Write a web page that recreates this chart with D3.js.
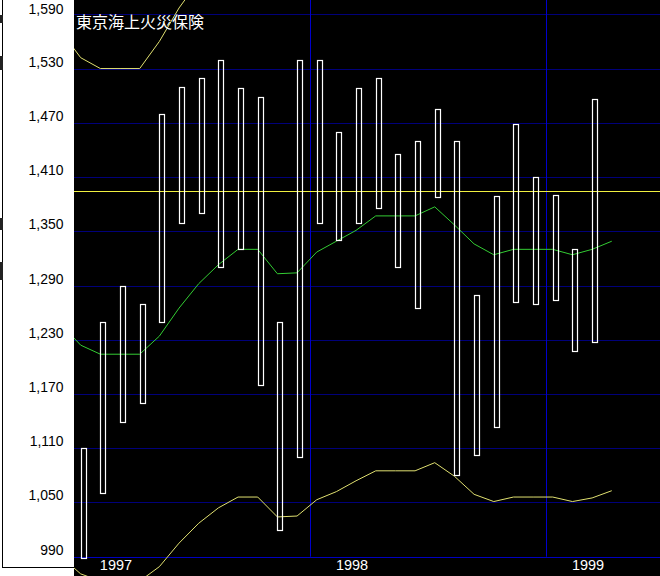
<!DOCTYPE html>
<html><head><meta charset="utf-8">
<script src="https://cdn.jsdelivr.net/npm/d3@7"></script>
<style>html,body{margin:0;padding:0;background:#000;overflow:hidden}</style>
</head><body>
<svg id="chart" width="660" height="576"></svg>
<script>
// ---- data ----
const title = "東京海上火災保険";
const months = ["1997-01","1997-02","1997-03","1997-04","1997-05","1997-06","1997-07","1997-08","1997-09","1997-10","1997-11","1997-12",
  "1998-01","1998-02","1998-03","1998-04","1998-05","1998-06","1998-07","1998-08","1998-09","1998-10","1998-11","1998-12",
  "1999-01","1999-02","1999-03"];
const candleHigh = [1110,1250,1290,1270,1480,1510,1520,1540,1508,1498,1250,1540,
  1540,1460,1508,1520,1435,1450,1485,1450,1280,1389,1469,1410,1390,1330,1496];
const candleLow = [989,1060,1139,1160,1250,1359,1370,1310,1330,1180,1020,1100,
  1359,1340,1359,1376,1310,1265,1388,1080,1102,1133,1272,1270,1274,1217,1227];
const lineMonths = ["1996-12","1997-01","1997-02","1997-03","1997-04","1997-05","1997-06","1997-07","1997-08","1997-09","1997-10","1997-11","1997-12",
  "1998-01","1998-02","1998-03","1998-04","1998-05","1998-06","1998-07","1998-08","1998-09","1998-10","1998-11","1998-12",
  "1999-01","1999-02","1999-03","1999-04"];
const movingAvg = [1247,1224,1214,1214,1214,1234,1265,1292,1313,1330,1330,1303,1304,
  1327,1339,1351,1367,1367,1367,1377,1357,1336,1324,1330,1330,1330,1324,1330,1339];
const lowerBand = [990,971,963,963,963,979,1005,1027,1044,1056,1056,1034,1035,
  1053,1062,1074,1085,1085,1085,1094,1079,1059,1051,1056,1056,1056,1051,1055,1063];
const upperBandMonths = ["1996-12","1997-01","1997-02","1997-03","1997-04","1997-05","1997-06","1997-07"];
const upperBand = [1571,1542,1530,1530,1530,1560,1597,1627];
const refLevel = 1394;
const yTicks = [990,1050,1110,1170,1230,1290,1350,1410,1470,1530,1590];
const yearLabels = ["1997","1998","1999"];

// ---- helpers ----
const idx = m => { const [y, mo] = m.split("-").map(Number); return (y - 1997) * 12 + (mo - 1); };
const W = 660, H = 576, plotLeft = 74;
const svg = d3.select("#chart");

const x = d3.scaleLinear().domain([0, 26]).range([83.7, 595.1]);
const y = d3.scaleLinear().domain([990, 1590]).range([556.7, 14.3]);
const lineShift = -3, candleW = 6;
const crisp = v => Math.round(v) + 0.5;

svg.append("rect").attr("width", W).attr("height", H).attr("fill", "#000");

const defs = svg.append("defs");
defs.append("clipPath").attr("id", "plotClip").append("rect")
  .attr("x", plotLeft).attr("y", 0).attr("width", W - plotLeft).attr("height", H);

const plot = svg.append("g").attr("clip-path", "url(#plotClip)");

// horizontal grid
plot.append("g").selectAll("line").data(yTicks.filter(t => t !== 990)).join("line")
  .attr("x1", plotLeft).attr("x2", W)
  .attr("y1", d => crisp(y(d))).attr("y2", d => crisp(y(d)))
  .attr("stroke", "#00007a").attr("stroke-width", 1);

// year separator lines
const yearStarts = yearLabels.map(yl => idx(yl + "-01"));
plot.append("g").selectAll("line").data(yearStarts.filter(i => i > 0)).join("line")
  .attr("x1", d => crisp(x(d - 0.5))).attr("x2", d => crisp(x(d - 0.5)))
  .attr("y1", 0).attr("y2", y(990))
  .attr("stroke", "#0000cc").attr("stroke-width", 1);

// bottom axis line
plot.append("line").attr("x1", plotLeft).attr("x2", W)
  .attr("y1", crisp(y(990))).attr("y2", crisp(y(990)))
  .attr("stroke", "#0000c0").attr("stroke-width", 1);

// reference level
plot.append("line").attr("x1", plotLeft).attr("x2", W)
  .attr("y1", crisp(y(refLevel))).attr("y2", crisp(y(refLevel)))
  .attr("stroke", "#f0f040").attr("stroke-width", 1);

const lineGen = d3.line().x(d => x(d[0]) + lineShift).y(d => y(d[1]));
const pairs = (ms, vs) => ms.map((m, i) => [idx(m), vs[i]]);

plot.append("path").datum(pairs(upperBandMonths, upperBand)).attr("d", lineGen)
  .attr("fill", "none").attr("stroke", "#e0e070").attr("stroke-width", 1);
plot.append("path").datum(pairs(lineMonths, lowerBand)).attr("d", lineGen)
  .attr("fill", "none").attr("stroke", "#e0e070").attr("stroke-width", 1);
plot.append("path").datum(pairs(lineMonths, movingAvg)).attr("d", lineGen)
  .attr("fill", "none").attr("stroke", "#33cc33").attr("stroke-width", 1);

// candles
plot.append("g").selectAll("rect").data(months).join("rect")
  .attr("x", (m) => Math.round(x(idx(m)) - candleW / 2) + 0.5)
  .attr("width", candleW - 1)
  .attr("y", (m, i) => Math.round(y(candleHigh[i])) + 0.5)
  .attr("height", (m, i) => Math.round(y(candleLow[i])) - Math.round(y(candleHigh[i])))
  .attr("fill", "none").attr("stroke", "#fff").attr("stroke-width", 1.2);

// year labels
plot.append("g").selectAll("text").data(yearLabels).join("text")
  .attr("x", d => x(idx(d + "-01") - 0.5) + 26)
  .attr("y", 570)
  .attr("fill", "#fff")
  .attr("font-family", "Liberation Sans, Arial, sans-serif")
  .attr("font-size", 14.5)
  .text(d => d);

// title
svg.append("text").attr("x", 76).attr("y", 28)
  .attr("fill", "#fff")
  .attr("font-family", "Noto Sans CJK JP, sans-serif")
  .attr("font-size", 16)
  .text(title);

// left panel
svg.append("rect").attr("x", 0).attr("y", 0).attr("width", plotLeft).attr("height", H).attr("fill", "#fff");
svg.append("line").attr("x1", 2.5).attr("x2", 2.5).attr("y1", 0).attr("y2", 568).attr("stroke", "#000");
svg.append("line").attr("x1", 2).attr("x2", plotLeft).attr("y1", 567.5).attr("y2", 567.5).attr("stroke", "#000");
[[15, 8], [56, 14], [218, 12], [262, 18]].forEach(([yy, hh]) =>
  svg.append("rect").attr("x", 0).attr("y", yy).attr("width", 3).attr("height", hh).attr("fill", "#222"));

svg.append("g").selectAll("text").data(yTicks).join("text")
  .attr("transform", d => `translate(63.5,${Math.max(y(d) - 2, 13.5)}) scale(0.9,1)`)
  .attr("text-anchor", "end")
  .attr("fill", "#000")
  .attr("font-family", "Liberation Sans, Arial, sans-serif")
  .attr("font-size", 15.5)
  .text(d => d3.format(",")(d));
</script>
</body></html>
